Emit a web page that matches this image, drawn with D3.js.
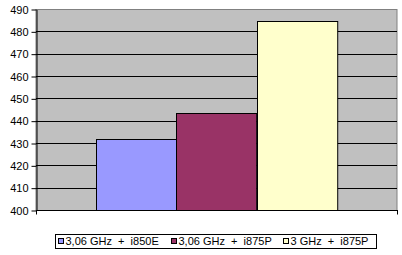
<!DOCTYPE html>
<html>
<head>
<meta charset="utf-8">
<script src="https://cdn.jsdelivr.net/npm/d3@7"></script>
<style>
  body { margin: 0; background: #fff; }
  text { font-family: Arial, "Liberation Sans", sans-serif; font-size: 11px; fill: #000; white-space: pre; }
</style>
</head>
<body>
<div id="chart"></div>
<script>
// data
const categories = [""];
const seriesNames = ["3,06 GHz  +  i850E", "3,06 GHz  +  i875P", "3 GHz  +  i875P"];
const seriesValues = [431.6, 443.4, 484.7];
const seriesColors = ["#9999ff", "#993366", "#ffffcc"];
const yTicks = [400, 410, 420, 430, 440, 450, 460, 470, 480, 490];

const W = 402, H = 255;
const plot = {left: 36, top: 9, right: 397, bottom: 210};
const legendBox = {left: 55, right: 376, top: 234, height: 14};

const svg = d3.select("#chart")
  .append("svg")
    .attr("width", W)
    .attr("height", H);

// Y scale
const y = d3.scaleLinear()
  .domain([400, 490])
  .range([plot.bottom, plot.top]);

// X scales
const x0 = d3.scaleBand()
  .domain(categories)
  .range([plot.left, plot.right])
  .paddingInner(0)
  .paddingOuter(0.25);
const x1 = d3.scaleBand()
  .domain(seriesNames)
  .range([0, x0.bandwidth()])
  .padding(0);

// plot background
svg.append("rect")
  .attr("x", plot.left)
  .attr("y", plot.top + 0.5)
  .attr("width", plot.right - plot.left)
  .attr("height", plot.bottom - plot.top)
  .attr("fill", "#c0c0c0")
  .attr("stroke", "#808080")
  .attr("stroke-width", 1);

// gridlines
svg.append("g")
  .selectAll("line")
  .data(yTicks.filter(d => d > 400 && d < 490))
  .join("line")
    .attr("x1", plot.left)
    .attr("x2", plot.right)
    .attr("y1", d => Math.round(y(d)) + 0.5)
    .attr("y2", d => Math.round(y(d)) + 0.5)
    .attr("stroke", "#000")
    .attr("stroke-width", 1);

// bars
svg.append("g")
  .selectAll("rect")
  .data(seriesValues.map((v, i) => ({name: seriesNames[i], value: v, color: seriesColors[i]})))
  .join("rect")
    .attr("x", d => Math.round(x0("") + x1(d.name)) + 0.5)
    .attr("y", d => Math.round(y(d.value)) + 0.5)
    .attr("width", x1.bandwidth())
    .attr("height", d => Math.round(plot.bottom - y(d.value)))
    .attr("fill", d => d.color)
    .attr("stroke", "#000")
    .attr("stroke-width", 1);

// Y axis
const yAxis = svg.append("g")
  .attr("transform", `translate(${plot.left + 0.5},0.5)`)
  .call(d3.axisLeft(y).tickValues(yTicks).tickSize(5).tickPadding(3).tickSizeOuter(0));
yAxis.select(".domain").attr("stroke", "#000");
yAxis.selectAll(".tick line").attr("stroke", "#000");
yAxis.selectAll(".tick text")
  .attr("font-family", null)
  .attr("font-size", null)
  .style("font-size", "11px");

// X axis line with category ticks
const xAxis = svg.append("g")
  .attr("transform", `translate(0,${plot.bottom + 0.5})`);
xAxis.append("line")
  .attr("x1", plot.left)
  .attr("x2", plot.right + 1)
  .attr("stroke", "#000");
xAxis.selectAll(".ctick")
  .data([plot.left, plot.right])
  .join("line")
    .attr("class", "ctick")
    .attr("x1", d => d + 0.5)
    .attr("x2", d => d + 0.5)
    .attr("y1", 0)
    .attr("y2", 4)
    .attr("stroke", "#000");

// legend
const legend = svg.append("g");
legend.append("rect")
  .attr("x", legendBox.left + 0.5)
  .attr("y", legendBox.top + 0.5)
  .attr("width", legendBox.right - legendBox.left)
  .attr("height", legendBox.height)
  .attr("fill", "#fff")
  .attr("stroke", "#000");

const items = legend.selectAll("g")
  .data(seriesNames)
  .join("g");
items.append("rect")
  .attr("y", 0.5)
  .attr("width", 5)
  .attr("height", 5)
  .attr("fill", (d, i) => seriesColors[i])
  .attr("stroke", "#000")
  .attr("stroke-width", 1);
items.append("text")
  .attr("x", 7)
  .attr("y", 7)
  .text(d => d);

const widths = [];
items.each(function() {
  widths.push(7 + d3.select(this).select("text").node().getComputedTextLength());
});
const padL = 3, padR = 8;
const inner = legendBox.right - legendBox.left - padL - padR;
const gap = (inner - d3.sum(widths)) / (widths.length - 1);
let cx = legendBox.left + padL;
items.attr("transform", (d, i) => {
  const t = `translate(${Math.round(cx) + 0.5},${legendBox.top + 4})`;
  cx += widths[i] + gap;
  return t;
});
</script>
</body>
</html>
